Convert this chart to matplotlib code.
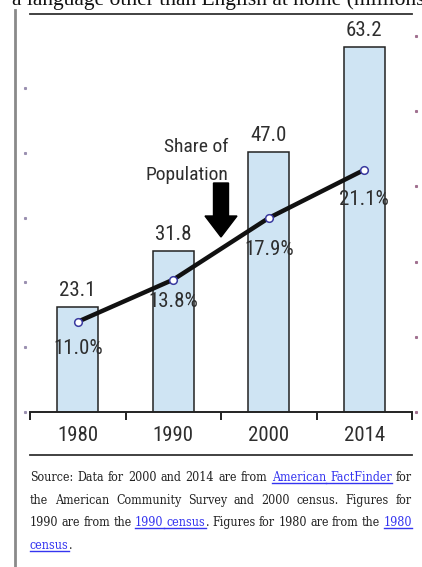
import matplotlib
matplotlib.use('Agg')
import matplotlib.pyplot as plt
import matplotlib.patches as mpatches
from matplotlib import font_manager as fm
from matplotlib.lines import Line2D
from matplotlib.transforms import blended_transform_factory
import numpy as np

# data
years = ['1980', '1990', '2000', '2014']
millions = [23.1, 31.8, 47.0, 63.2]
share_pct = [11.0, 13.8, 17.9, 21.1]

title_text = 'a language other than English at home (millions'
# links are marked with {...}
source_lines = [
    'Source: Data for 2000 and 2014 are from {American FactFinder} for',
    'the American Community Survey and 2000 census. Figures for',
    '1990 are from the {1990 census}. Figures for 1980 are from the {1980',
    'census}.',
]

W, H = 422, 567
fig = plt.figure(figsize=(W / 100, H / 100), dpi=100)


def fx(px):
    return px / W


def fy(py):
    return 1 - py / H


# pick a condensed face if the machine has one
fonts = {(f.name, f.stretch) for f in fm.fontManager.ttflist}
names = {f.name for f in fm.fontManager.ttflist}


def pick(cands, fallback):
    for name, stretch in cands:
        if stretch is None and name in names:
            return dict(family=[name, 'DejaVu Sans'])
        if stretch is not None and any(n == name and s == stretch for n, s in fonts):
            return dict(family=[name], fontstretch=stretch)
    return fallback


NARROW = pick([('Liberation Sans Narrow', None), ('Roboto Condensed', None),
               ('Open Sans Condensed', None), ('DejaVu Sans', 'condensed')],
              dict(family=['Liberation Sans', 'DejaVu Sans']))
SERIF = pick([('DejaVu Serif', 'condensed')],
             dict(family=['Liberation Serif', 'DejaVu Serif']))
narrow_ok = 'fontstretch' in NARROW or NARROW['family'][0] != 'Liberation Sans'
NUM_SIZE = 15 if narrow_ok else 12.5
INK = '#2e2e2e'
LINK = '#3535f0'

# main axes (bars, millions)
ax = fig.add_axes([fx(30), fy(412), (412 - 30) / W, (412 - 36) / H])
x = np.arange(len(years))
ax.bar(x, millions, width=0.43, color='#cfe4f3', edgecolor='#222222',
       linewidth=1.1, zorder=2)
ax.set_xlim(-0.5, 3.5)
ax.set_ylim(6.9, 64.9)
for s in ['top', 'left', 'right']:
    ax.spines[s].set_visible(False)
ax.spines['bottom'].set_color('#222222')
ax.spines['bottom'].set_linewidth(1.4)
ax.set_yticks([])
ax.set_xticks(np.arange(-0.5, 4, 1))
ax.set_xticklabels([])
ax.tick_params(axis='x', which='major', direction='out', length=6,
               width=1.4, color='#222222')
ax.set_xticks(x, minor=True)
ax.set_xticklabels(years, minor=True, fontsize=NUM_SIZE, color=INK, **NARROW)
ax.tick_params(axis='x', which='minor', length=0, pad=10)

for xi, v in zip(x, millions):
    ax.annotate(f'{v:.1f}', (xi, v), xytext=(0, 5), textcoords='offset points',
                ha='center', va='bottom', fontsize=NUM_SIZE, color=INK, **NARROW)

# faint tick dots on the left
tl = blended_transform_factory(ax.transAxes, ax.transData)
ax.plot([-5 / 382] * 6, 6.9 + 10 * np.arange(6), ls='none', marker='s',
        ms=1.2, color='#9a90b0', transform=tl, clip_on=False)

# share of population (percent) on a twin axis
ax2 = ax.twinx()
ax2.set_ylim(5, 30)
ax2.axis('off')
ax2.plot(x, share_pct, color='#111111', lw=3.2, solid_capstyle='butt', zorder=3)
ax2.plot(x, share_pct, ls='none', marker='o', ms=5.5, mfc='white',
         mec='#3a3aa0', mew=1.1, zorder=4)

pct_dy = [-19, -16, -23, -21]
for xi, p, dy in zip(x, share_pct, pct_dy):
    ax2.annotate(f'{p:.1f}%', (xi, p), xytext=(0, dy), textcoords='offset points',
                 ha='center', va='center', fontsize=NUM_SIZE, color=INK, **NARROW)

tr = blended_transform_factory(ax2.transAxes, ax2.transData)
ax2.plot([1 + 4 / 382] * 6, np.arange(5, 31, 5), ls='none', marker='s',
         ms=1.2, color='#a07090', transform=tr, clip_on=False)

# "Share of Population" with the big arrow
fig.text(fx(228), fy(147), 'Share of', ha='right', va='center',
         fontsize=NUM_SIZE - 1, color=INK, **NARROW)
fig.text(fx(228), fy(175), 'Population', ha='right', va='center',
         fontsize=NUM_SIZE - 1, color=INK, **NARROW)
fig.add_artist(mpatches.FancyArrow(2.21, (H - 183) / 100, 0, -0.54,
                                   width=0.15, head_width=0.32, head_length=0.21,
                                   length_includes_head=True, color='black',
                                   transform=fig.dpi_scale_trans))

# title (cut off at the top, as in the source page) and rules
fig.text(fx(12), fy(5), title_text, family=['Liberation Serif', 'DejaVu Serif'],
         fontsize=15.5, va='baseline', color='#111111')
fig.add_artist(Line2D([fx(30), fx(412)], [fy(14)] * 2, color='#333333', lw=1.3))
fig.add_artist(Line2D([fx(30), fx(412)], [fy(455)] * 2, color='#333333', lw=1.3))
fig.add_artist(Line2D([fx(15.5)] * 2, [fy(10), 0], color='#8a8a8a', lw=2))

# source note, justified between x=30 and x=412
SRC_SIZE = 10.5
renderer = fig.canvas.get_renderer()


def parse(line, link):
    words = []
    for raw in line.split(' '):
        pieces, buf = [], ''
        for ch in raw:
            if ch in '{}':
                if buf:
                    pieces.append((buf, link))
                    buf = ''
                link = ch == '{'
            else:
                buf += ch
        if buf:
            pieces.append((buf, link))
        words.append(pieces)
    return words, link


def place_line(words, y, justify, size):
    measured = []
    for w in words:
        ws = []
        for s, lk in w:
            t = fig.text(0, fy(y), s, fontsize=size, color=LINK if lk else '#222222',
                         va='baseline', **SERIF)
            ws.append((t, t.get_window_extent(renderer).width, lk))
        measured.append(ws)
    widths = [sum(p[1] for p in ws) for ws in measured]
    if justify and len(words) > 1:
        gap = (382 - sum(widths)) / (len(words) - 1)
    else:
        gap = 3
    xpos = 30
    prev_link_end = None
    for ws in measured:
        for i, (t, wd, lk) in enumerate(ws):
            t.set_x(fx(xpos))
            if lk:
                start = prev_link_end if (i == 0 and prev_link_end is not None) else xpos
                fig.add_artist(Line2D([fx(start), fx(xpos + wd)], [fy(y + 2)] * 2,
                                      color=LINK, lw=1))
            xpos += wd
        prev_link_end = xpos if ws[-1][2] else None
        xpos += gap


# shrink the note a little if the first line would not fit
probe = fig.text(0, 0, source_lines[0].replace('{', '').replace('}', ''),
                 fontsize=SRC_SIZE, **SERIF)
w0 = probe.get_window_extent(renderer).width
probe.remove()
if w0 > 380:
    SRC_SIZE = SRC_SIZE * 378 / w0

link_state = False
baselines = [481, 504, 526, 549]
for i, (line, yb) in enumerate(zip(source_lines, baselines)):
    words, link_state = parse(line, link_state)
    place_line(words, yb, i < len(source_lines) - 1, SRC_SIZE)

fig.savefig('out.png', dpi=100)
